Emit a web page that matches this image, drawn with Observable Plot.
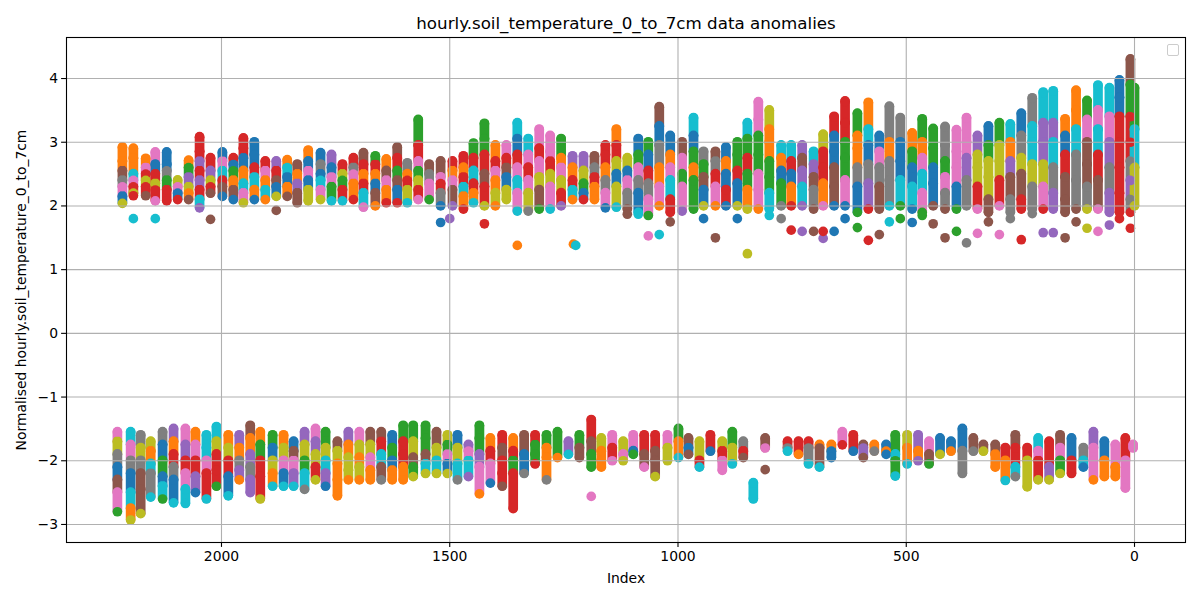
<!DOCTYPE html>
<html>
<head>
<meta charset="utf-8">
<script src="https://cdn.jsdelivr.net/npm/d3@7"></script>
<script src="https://cdn.jsdelivr.net/npm/@observablehq/plot@0.6"></script>
<style>
  html, body { margin: 0; padding: 0; background: #fff; }
  #wrap { position: relative; width: 1200px; height: 600px; }
  #legendbox { position: absolute; left: 1167px; top: 44px; width: 10px; height: 10px;
    border: 1px solid #cccccc; border-radius: 2px; background: rgba(255,255,255,0.8); }
</style>
</head>
<body>
<div id="wrap"></div>
<script>
// ---- chart text ----
const titleText = "hourly.soil_temperature_0_to_7cm data anomalies";
const xLabel = "Index";
const yLabel = "Normalised hourly.soil_temperature_0_to_7cm";
const xTicks = [2000, 1500, 1000, 500, 0];
const yTicks = [-3, -2, -1, 0, 1, 2, 3, 4];
const palette = ["#1f77b4","#ff7f0e","#2ca02c","#d62728","#9467bd","#8c564b","#e377c2","#7f7f7f","#bcbd22","#17becf"];

// ---- upper cluster: [index, colour, value, colour, value, ...] listed top to bottom ----
const upperRows = [
[2217,1,2.92,1,2.7,5,2.55,7,2.4,6,2.3,0,2.15,8,2.04],
[2193,1,2.9,1,2.75,9,2.5,6,2.4,3,2.3,8,2.2,3,2.16],
[2166,1,2.74,6,2.6,3,2.5,8,2.4,3,2.3,5,2.16],
[2145,6,2.84,0,2.65,3,2.5,8,2.35,3,2.25,6,2.08],
[2120,0,2.84,0,2.65,7,2.55,2,2.4,3,2.25,3,2.08],
[2096,8,2.4,6,2.3,0,2.2,3,2.1],
[2072,1,2.71,2,2.6,4,2.45,8,2.3,1,2.2,5,2.1],
[2048,3,3.08,3,2.85,4,2.7,3,2.55,4,2.4,3,2.25,9,2.1,4,1.97],
[2024,3,2.75,4,2.55,8,2.4,3,2.3,5,2.2],
[1998,0,2.84,6,2.7,9,2.55,3,2.4,5,2.3,0,2.15],
[1974,3,2.75,0,2.65,2,2.55,1,2.4,5,2.25,0,2.1],
[1952,3,3.06,3,2.9,0,2.75,1,2.55,9,2.35,6,2.2,8,2.05],
[1928,0,3.0,0,2.8,3,2.6,9,2.45,1,2.25,0,2.1],
[1904,3,2.7,6,2.55,1,2.4,9,2.25,1,2.1],
[1880,4,2.7,3,2.55,5,2.4,0,2.3,8,2.15],
[1856,1,2.72,9,2.6,0,2.45,1,2.3,5,2.15],
[1834,5,2.65,1,2.5,4,2.35,5,2.2,5,2.05],
[1810,1,2.87,0,2.7,6,2.55,0,2.4,8,2.25,8,2.08],
[1783,0,2.83,7,2.65,0,2.5,9,2.4,6,2.25,8,2.1],
[1759,4,2.8,0,2.6,6,2.45,2,2.3,9,2.08],
[1735,3,2.65,8,2.5,2,2.4,3,2.25,9,2.08],
[1711,3,2.75,7,2.6,6,2.5,1,2.35,3,2.1],
[1689,5,2.83,3,2.65,1,2.5,3,2.35,9,2.2,6,1.98],
[1663,2,2.78,3,2.65,1,2.5,0,2.35,5,2.2,1,2.0],
[1639,1,2.73,5,2.55,6,2.4,1,2.25,3,2.05],
[1615,5,2.92,3,2.75,2,2.55,5,2.4,0,2.25,3,2.05],
[1593,7,2.67,1,2.5,3,2.4,8,2.25,9,2.05],
[1569,2,3.35,3,2.95,6,2.7,2,2.55,8,2.4,3,2.25,6,2.1],
[1545,5,2.65,7,2.5,6,2.35,2,2.1],
[1520,5,2.7,6,2.45,3,2.35,7,2.2,0,2.0],
[1494,3,2.7,1,2.55,6,2.4,5,2.25,4,2.0],
[1470,3,2.78,1,2.6,3,2.45,9,2.3,1,2.15,3,1.95],
[1448,2,2.98,3,2.75,9,2.55,3,2.35,1,2.2,9,2.05],
[1424,2,3.29,2,3.05,3,2.8,5,2.5,3,2.3,8,2.0],
[1400,1,2.95,3,2.7,6,2.55,1,2.4,8,2.2,1,2.0],
[1376,6,2.95,3,2.75,5,2.6,0,2.45,8,2.25,8,2.1],
[1352,9,3.3,0,3.05,3,2.8,6,2.6,9,2.4,6,2.2,9,1.92],
[1328,9,3.05,6,2.8,3,2.6,6,2.4,8,2.2,7,1.92],
[1304,6,3.2,3,2.9,6,2.7,8,2.45,5,2.25,2,1.95],
[1280,6,3.1,6,2.85,3,2.7,8,2.5,6,2.3,9,1.95],
[1256,2,3.05,1,2.75,6,2.6,8,2.4,3,2.2,4,2.0],
[1231,4,2.78,1,2.6,3,2.4,9,2.25,1,2.1],
[1207,4,2.78,8,2.55,2,2.35,0,2.2,3,2.1],
[1183,5,2.78,7,2.6,3,2.45,1,2.3,1,2.1],
[1159,3,2.95,3,2.8,1,2.6,7,2.4,6,2.2,0,1.97],
[1135,1,3.2,3,2.95,8,2.7,0,2.5,8,2.3,9,1.98],
[1111,8,2.75,0,2.55,6,2.4,7,2.2,5,1.95],
[1087,0,3.05,2,2.8,6,2.6,7,2.4,0,2.2,9,1.9],
[1065,2,3.0,0,2.8,3,2.55,7,2.35,6,2.1,2,1.85],
[1041,5,3.55,0,3.25,7,2.95,1,2.6,6,2.3,1,2.0],
[1017,0,3.1,1,2.8,6,2.6,9,2.4,3,2.1,3,1.9],
[991,5,3.0,6,2.75,2,2.5,6,2.3,4,1.92],
[966,9,3.38,0,3.1,2,2.85,1,2.6,2,2.4,2,1.95],
[944,7,2.85,2,2.65,5,2.45,0,2.25,8,2.0],
[918,5,2.85,7,2.7,3,2.5,6,2.3,1,2.0],
[895,0,2.92,1,2.7,0,2.5,3,2.25,0,2.0],
[870,2,3.0,2,2.8,3,2.55,0,2.35,8,2.0],
[848,9,3.3,2,3.05,3,2.75,2,2.5,1,2.25,8,1.95],
[824,6,3.63,6,3.35,2,3.1,2,2.8,6,2.5,6,2.25,1,1.95],
[800,8,3.5,1,3.2,1,3.0,2,2.7,2,2.45,9,2.2,9,1.95],
[774,9,2.95,1,2.75,0,2.55,2,2.35,7,2.0],
[752,9,2.95,3,2.7,0,2.5,1,2.3,3,2.0],
[728,4,2.95,5,2.75,4,2.55,9,2.3,4,2.0],
[703,9,2.85,4,2.65,5,2.45,7,2.25,5,1.95],
[682,8,3.12,3,2.85,3,2.6,1,2.35,6,2.0],
[658,3,3.4,0,3.1,0,2.85,5,2.6,5,2.3,0,2.0],
[634,3,3.64,3,3.3,2,3.0,2,2.75,6,2.4,0,2.0],
[607,2,3.45,1,3.1,1,2.9,7,2.6,0,2.3,2,1.9],
[583,1,3.62,9,3.2,0,2.95,7,2.65,4,2.35,3,1.95],
[559,0,3.1,6,2.85,7,2.6,5,2.3,5,1.95],
[537,7,3.56,1,3.0,7,2.7,7,2.4,9,2.0],
[513,7,3.38,0,3.0,0,2.7,9,2.4,2,2.0],
[487,1,3.14,2,2.85,0,2.6,9,2.3,0,1.95],
[465,2,3.36,1,3.0,6,2.75,9,2.5,6,2.2,2,1.9],
[441,2,3.21,2,2.9,0,2.6,0,2.35,5,2.0],
[415,7,3.24,7,2.95,2,2.7,6,2.45,7,2.2,5,1.95],
[390,6,3.19,6,2.85,6,2.6,0,2.3,2,1.95],
[368,6,3.38,6,3.0,4,2.75,7,2.4,7,2.0],
[344,4,3.1,8,2.8,8,2.6,3,2.3,6,1.95],
[320,0,3.25,2,2.95,8,2.7,8,2.45,5,2.1,5,1.9],
[296,2,3.3,8,2.95,8,2.7,3,2.4,6,2.0],
[272,9,3.28,1,3.0,4,2.7,5,2.45,7,2.1,7,1.9],
[248,0,3.45,7,3.1,8,2.75,5,2.5,3,2.1,3,1.95],
[224,7,3.69,9,3.25,9,3.0,8,2.65,7,2.3,7,1.95],
[200,9,3.78,4,3.3,4,3.0,8,2.65,6,2.3,3,1.95],
[178,9,3.8,4,3.3,9,3.0,7,2.6,4,2.2,4,1.95],
[152,1,3.36,0,3.1,3,2.8,5,2.45,5,2.1,5,1.9],
[128,1,3.81,1,3.5,9,3.2,7,2.8,7,2.4,5,1.95],
[104,2,3.65,6,3.35,5,3.0,5,2.65,7,2.3,8,1.95],
[80,9,3.89,6,3.5,9,3.2,3,2.8,5,2.4,6,1.95],
[55,9,3.85,6,3.4,4,3.0,7,2.6,4,2.2,4,1.9],
[33,0,3.97,0,3.7,3,3.4,3,3.0,3,2.6,3,2.2,3,1.9],
[9,5,4.3,2,3.9,3,3.4,3,3.0,7,2.7,4,2.4,7,2.1,3,1.9],
[0,2,3.85,9,3.2,8,2.6,8,2.0]
];

// ---- lower cluster: same layout ----
const lowerRows = [
[2228,6,-1.55,8,-1.7,7,-1.9,0,-2.1,5,-2.3,6,-2.5,2,-2.8],
[2199,9,-1.55,6,-1.75,7,-2.0,0,-2.2,9,-2.5,1,-2.75,8,-2.93],
[2177,7,-1.6,8,-1.8,7,-2.0,5,-2.2,5,-2.45,8,-2.83],
[2155,8,-1.7,1,-1.85,9,-2.05,7,-2.2,9,-2.57],
[2129,7,-1.55,0,-1.75,2,-2.0,0,-2.25,9,-2.4,2,-2.6],
[2105,4,-1.5,1,-1.7,3,-1.9,7,-2.1,0,-2.3,9,-2.66],
[2079,6,-1.5,4,-1.75,3,-2.0,6,-2.2,9,-2.45,9,-2.67],
[2057,1,-1.55,6,-1.75,3,-2.0,4,-2.25,0,-2.5],
[2033,9,-1.6,9,-1.8,6,-2.0,3,-2.2,9,-2.6],
[2011,9,-1.47,8,-1.7,3,-1.9,3,-2.15,2,-2.4],
[1985,1,-1.6,8,-1.8,3,-2.0,0,-2.25,9,-2.55],
[1961,4,-1.6,1,-1.8,7,-2.0,4,-2.15,1,-2.3],
[1937,5,-1.45,1,-1.65,4,-1.9,7,-2.1,4,-2.3,4,-2.5],
[1915,1,-1.55,2,-1.75,3,-2.0,3,-2.25,8,-2.6],
[1888,2,-1.6,0,-1.8,8,-2.0,1,-2.2,9,-2.4],
[1864,1,-1.6,8,-1.8,6,-2.0,0,-2.2,9,-2.4],
[1842,0,-1.7,5,-1.85,6,-2.0,4,-2.2,9,-2.4],
[1818,4,-1.55,8,-1.75,2,-2.0,9,-2.2,7,-2.45],
[1794,6,-1.5,4,-1.7,8,-1.9,3,-2.1,8,-2.3],
[1772,2,-1.55,8,-1.8,9,-2.0,4,-2.2,0,-2.4],
[1746,5,-1.7,8,-1.85,1,-2.05,1,-2.3,1,-2.55],
[1722,4,-1.55,1,-1.75,8,-1.95,8,-2.15,1,-2.3],
[1698,6,-1.55,8,-1.75,1,-1.95,8,-2.1,1,-2.3],
[1674,5,-1.55,8,-1.75,6,-1.95,1,-2.15,1,-2.3],
[1650,5,-1.55,3,-1.7,9,-1.9,5,-2.1,7,-2.3],
[1626,0,-1.6,2,-1.8,0,-2.0,1,-2.15,1,-2.3],
[1602,2,-1.45,3,-1.7,3,-1.9,1,-2.1,1,-2.3],
[1580,2,-1.45,8,-1.7,5,-1.95,2,-2.1,8,-2.25],
[1553,2,-1.45,2,-1.65,5,-1.9,9,-2.05,8,-2.2],
[1529,5,-1.55,8,-1.8,9,-2.0,8,-2.2],
[1505,8,-1.6,2,-1.75,6,-1.9,0,-2.05,8,-2.2],
[1483,0,-1.6,8,-1.8,9,-2.05,7,-2.3],
[1459,4,-1.75,6,-1.85,9,-2.0,4,-2.25],
[1435,2,-1.45,2,-1.65,4,-1.9,6,-2.1,1,-2.52],
[1411,1,-1.65,3,-1.85,6,-2.05,0,-2.35],
[1385,3,-1.6,5,-1.8,3,-2.0,3,-2.2,5,-2.4],
[1361,1,-1.65,3,-1.85,2,-2.0,3,-2.2,3,-2.75],
[1337,5,-1.6,0,-1.9,7,-2.2],
[1313,3,-1.6,2,-1.75,2,-1.9,3,-2.05],
[1288,2,-1.6,1,-1.8,1,-1.95,7,-2.3],
[1264,2,-1.55,1,-1.95],
[1240,4,-1.7,9,-1.9],
[1216,2,-1.6,5,-1.8,5,-1.95],
[1190,3,-1.36,5,-1.7,2,-1.9,2,-2.1],
[1168,8,-1.65,1,-1.85,1,-2.0,1,-2.1],
[1144,6,-1.6,3,-1.8,6,-2.0],
[1120,8,-1.7,6,-1.9,8,-2.0],
[1098,6,-1.6,0,-1.85,2,-1.9],
[1074,3,-1.6,5,-1.9,6,-2.1],
[1050,3,-1.6,5,-1.85,5,-2.0,8,-2.25],
[1023,6,-1.6,8,-1.8,8,-2.0],
[999,2,-1.5,1,-1.7,9,-1.95],
[977,5,-1.65,0,-1.8,5,-1.9],
[953,8,-1.7,3,-2.0,9,-2.1],
[929,3,-1.6,0,-1.85],
[903,8,-1.7,3,-1.85,6,-2.0,6,-2.15],
[881,2,-1.55,8,-1.8,9,-2.05],
[857,7,-1.7,3,-1.85,5,-1.95],
[835,9,-2.35,9,-2.6],
[809,5,-1.65,6,-1.8],
[760,3,-1.7,7,-1.8,9,-1.85],
[736,3,-1.7,1,-1.9],
[714,3,-1.7,7,-1.8,9,-2.05],
[690,1,-1.75,5,-1.8,9,-2.1],
[664,1,-1.75,0,-1.85,0,-1.95],
[640,6,-1.55,3,-1.75],
[616,3,-1.6,0,-1.85],
[594,5,-1.75,4,-1.8,5,-1.95],
[570,1,-1.75,7,-1.85],
[544,0,-1.75,1,-1.85,0,-1.9],
[524,2,-1.6,9,-1.9,2,-2.0,9,-2.24],
[498,8,-1.6,1,-1.8,9,-2.05],
[474,4,-1.6,1,-1.85,4,-2.0],
[450,6,-1.7,5,-1.9,2,-2.05],
[426,0,-1.65,8,-1.9],
[402,0,-1.7,1,-1.85],
[377,0,-1.5,7,-1.85,7,-2.2],
[353,5,-1.65,7,-1.85],
[331,5,-1.75,8,-1.85],
[305,5,-1.75,1,-1.9,1,-2.1],
[283,3,-1.8,1,-2.0,9,-2.31],
[261,5,-1.6,3,-1.8,9,-2.1,7,-2.25],
[235,3,-1.8,8,-2.0,8,-2.41],
[211,9,-1.65,6,-1.85,3,-2.0,8,-2.3],
[187,3,-1.7,4,-2.1,8,-2.3],
[163,5,-1.6,6,-1.8,2,-2.0,8,-2.2],
[138,0,-1.65,3,-2.0,3,-2.2],
[112,7,-1.8,9,-2.0,0,-2.1],
[90,4,-1.55,6,-1.8,6,-2.0,1,-2.3],
[66,0,-1.7,1,-2.0,1,-2.25],
[42,6,-1.75,1,-2.1,1,-2.25],
[20,3,-1.65,6,-2.0,6,-2.43],
[3,6,-1.75,6,-1.8]
];

// ---- isolated points: [index, colour, value] ----
const outliers = [
[2193,9,1.80],[2145,9,1.80],[2024,5,1.79],[1880,5,1.93],[1520,0,1.74],[1500,4,1.8],
[1424,3,1.72],[1352,1,1.38],[1229,1,1.40],[1224,9,1.38],[1111,5,1.87],[1087,9,1.87],
[1065,6,1.53],[1041,9,1.55],[1017,5,1.75],[944,0,1.80],[918,5,1.5],[870,0,1.8],
[848,8,1.25],[800,9,1.85],[774,7,1.8],[752,3,1.62],[728,4,1.6],[703,5,1.6],
[682,4,1.49],[682,3,1.6],[658,0,1.6],[634,0,1.8],[607,2,1.66],[583,3,1.46],
[559,5,1.55],[537,9,1.75],[513,2,1.8],[487,0,1.74],[465,2,1.85],[441,5,1.72],
[415,5,1.5],[390,2,1.6],[368,7,1.42],[344,6,1.57],[320,5,1.75],[296,6,1.55],
[272,7,1.8],[248,3,1.47],[224,7,1.88],[200,4,1.58],[178,4,1.58],[152,5,1.5],
[128,5,1.75],[104,8,1.65],[80,6,1.6],[55,4,1.7],[33,3,1.8],[9,3,1.65],
[1190,6,-2.56],[809,5,-2.14]
];

// ---- build tables from the arrays ----
const segs = [], pts = [];
for (const rows of [upperRows, lowerRows]) {
  for (const r of rows) {
    const x = r[0];
    const p = [];
    for (let i = 1; i < r.length; i += 2) p.push({x, c: r[i], y: r[i + 1]});
    for (let i = 0; i < p.length - 1; i++) segs.push({x, c: p[i].c, y1: p[i].y, y2: p[i + 1].y});
    for (const q of p) pts.push(q);
  }
}
for (const o of outliers) pts.push({x: o[0], c: o[1], y: o[2]});

const fmt = d => String(d).replace("-", "\u2212");
const FS = 13.9;

const chart = Plot.plot({
  width: 1200,
  height: 600,
  marginTop: 37, marginBottom: 58, marginLeft: 66, marginRight: 15,
  style: {fontFamily: "DejaVu Sans", fontSize: FS + "px", background: "white", overflow: "visible"},
  x: {domain: [2339.5, -111.7]},
  y: {domain: [-3.283, 4.644]},
  color: {type: "ordinal", domain: d3.range(10), range: palette},
  marks: [
    Plot.ruleX(segs, {x: "x", y1: "y1", y2: "y2", stroke: "c", strokeWidth: 9.7, strokeLinecap: "round"}),
    Plot.dot(pts, {x: "x", y: "y", fill: "c", r: 4.85}),
    Plot.gridX(xTicks, {stroke: "#b0b0b0", strokeOpacity: 1, strokeWidth: 1.1}),
    Plot.gridY(yTicks, {stroke: "#b0b0b0", strokeOpacity: 1, strokeWidth: 1.1}),
    Plot.frame({stroke: "black", strokeWidth: 1.1}),
    Plot.axisX(xTicks, {tickSize: 4.9, tickPadding: 3.5, tickFormat: fmt, fontSize: FS, label: null, stroke: "black", strokeWidth: 1.1}),
    Plot.axisY(yTicks, {tickSize: 4.9, tickPadding: 3.5, tickFormat: fmt, fontSize: FS, label: null, stroke: "black", strokeWidth: 1.1}),
    Plot.text([xLabel], {frameAnchor: "bottom", dy: 36, text: d => d, fontSize: FS, lineAnchor: "middle", fill: "black"}),
    Plot.text([yLabel], {frameAnchor: "left", dx: -45, rotate: -90, text: d => d, fontSize: FS, textAnchor: "middle", lineAnchor: "middle", fill: "black"}),
    Plot.text([titleText], {frameAnchor: "top", dy: -14, text: d => d, fontSize: 16.7, lineAnchor: "middle", fill: "black"})
  ]
});
const wrap = document.getElementById("wrap");
wrap.appendChild(chart);
const lb = document.createElement("div");
lb.id = "legendbox";
wrap.appendChild(lb);
</script>
</body>
</html>
